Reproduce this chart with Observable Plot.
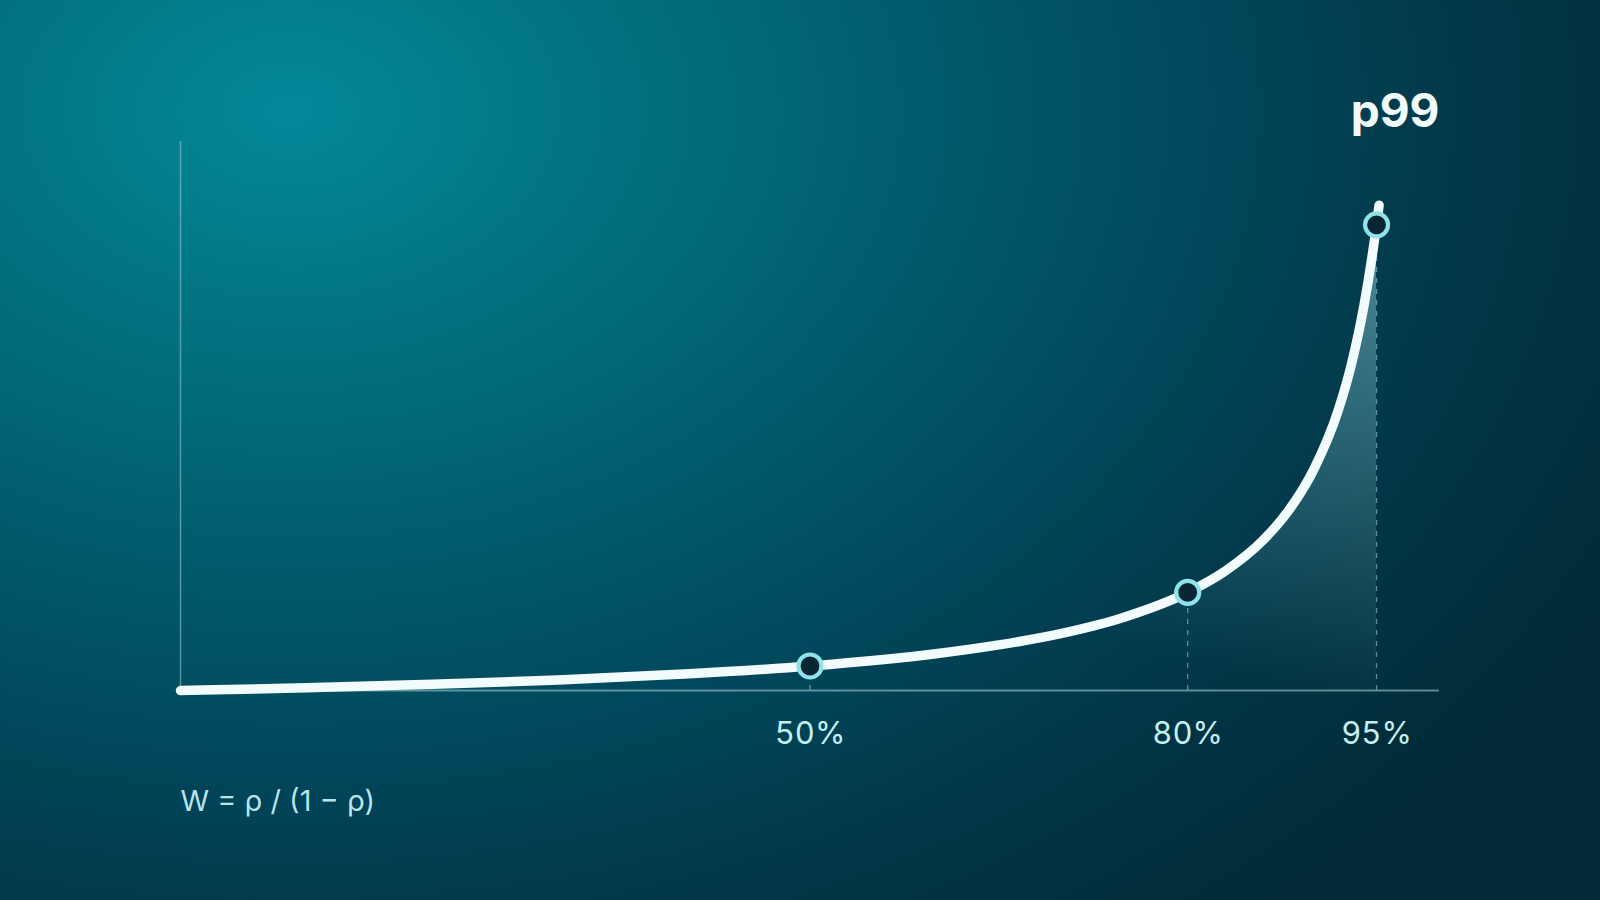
<!DOCTYPE html>
<html>
<head>
<meta charset="utf-8">
<script src="https://cdn.jsdelivr.net/npm/d3@7"></script>
<script src="https://cdn.jsdelivr.net/npm/@observablehq/plot@0.6"></script>
<style>
  html, body { margin: 0; padding: 0; }
  body { width: 1600px; height: 900px; overflow: hidden; }
  #wrap {
    width: 1600px; height: 900px;
    background: radial-gradient(ellipse 1500px 1050px at 290px 110px,
      #03899a 0%, #02717f 22%, #01596a 45%, #01465a 63%, #023545 82%, #022a37 100%);
  }
  svg { display: block; }
</style>
</head>
<body>
<div id="wrap"></div>
<script>
// Utilisation ρ and waiting time W
const rho = [0, 0.1, 0.2, 0.3, 0.4, 0.5, 0.6, 0.65, 0.7, 0.75, 0.8, 0.83, 0.86, 0.88, 0.9, 0.92, 0.93, 0.94, 0.95, 0.952];
const wait = [0, 0.11, 0.25, 0.43, 0.67, 1, 1.5, 1.86, 2.33, 3, 4, 4.88, 6.14, 7.33, 9, 11.5, 13.3, 15.7, 19, 19.8];

// Highlighted points
const markRho = [0.5, 0.8, 0.95];
const markWait = [1, 4, 19];

// Tick labels
const tickValues = [0.5, 0.8, 0.95];
const tickLabels = ["50%", "80%", "95%"];

const headLabel = "p99";
const formula = "W = ρ / (1 − ρ)";

const curve = rho.map((r, i) => ({rho: r, w: wait[i]}));
const areaData = curve.filter(d => d.rho <= 0.95);
const pts = markRho.map((r, i) => ({rho: r, w: markWait[i]}));

const chart = Plot.plot({
  width: 1600,
  height: 900,
  marginLeft: 180,
  marginRight: 161,
  marginTop: 141,
  marginBottom: 210,
  x: {domain: [0, 1], axis: null, label: null},
  y: {domain: [0, 22.4], axis: null, label: null},
  style: {background: "transparent", fontFamily: "Inter, 'Noto Sans', sans-serif"},
  marks: [
    Plot.areaY(areaData, {x: "rho", y: "w", fill: "url(#areaGrad)", curve: "monotone-x"}),
    Plot.ruleX([0], {y1: 0, y2: 22.4, stroke: "#a9d4da", strokeOpacity: 0.5, strokeWidth: 1.5}),
    Plot.ruleY([0], {x1: 0, x2: 1, stroke: "#a9d4da", strokeOpacity: 0.55, strokeWidth: 2}),
    Plot.ruleX(pts, {x: "rho", y1: 0, y2: "w", stroke: "#9fd9e0", strokeOpacity: 0.55, strokeWidth: 1.3, strokeDasharray: "5,6"}),
    Plot.line(curve, {x: "rho", y: "w", stroke: "#f2fcfc", strokeWidth: 9.5, strokeLinecap: "round", strokeLinejoin: "round", curve: "monotone-x"}),
    Plot.dot(pts, {x: "rho", y: "w", r: 11.5, fill: "#0b2633", stroke: "#8fe1ea", strokeWidth: 4.2}),
    Plot.axisX({ticks: tickValues, tickFormat: d => tickLabels[tickValues.indexOf(d)], tickSize: 0, tickPadding: 31, fontSize: 31, fill: "#c4eff3", stroke: null, label: null}),
    Plot.text([headLabel], {x: 1, y: 0, dy: -564, text: d => d, textAnchor: "end", lineAnchor: "bottom", fontSize: 46, fontWeight: 700, fill: "#f2fbfb"}),
    Plot.text([formula], {x: 0, y: 0, dy: 120, text: d => d, textAnchor: "start", lineAnchor: "bottom", fontSize: 29, fontWeight: 400, fill: "#c4eff3", fillOpacity: 0.95})
  ]
});

const svg = d3.select(chart);
const defs = svg.insert("defs", ":first-child");
const g = defs.append("linearGradient")
  .attr("id", "areaGrad")
  .attr("x1", "0.1").attr("y1", "1").attr("x2", "0.9").attr("y2", "0");
g.append("stop").attr("offset", "0").attr("stop-color", "#8fd8e2").attr("stop-opacity", 0);
g.append("stop").attr("offset", "0.4").attr("stop-color", "#8fd8e2").attr("stop-opacity", 0);
g.append("stop").attr("offset", "1").attr("stop-color", "#a6e4ec").attr("stop-opacity", 0.42);

document.getElementById("wrap").appendChild(chart);
</script>
</body>
</html>
